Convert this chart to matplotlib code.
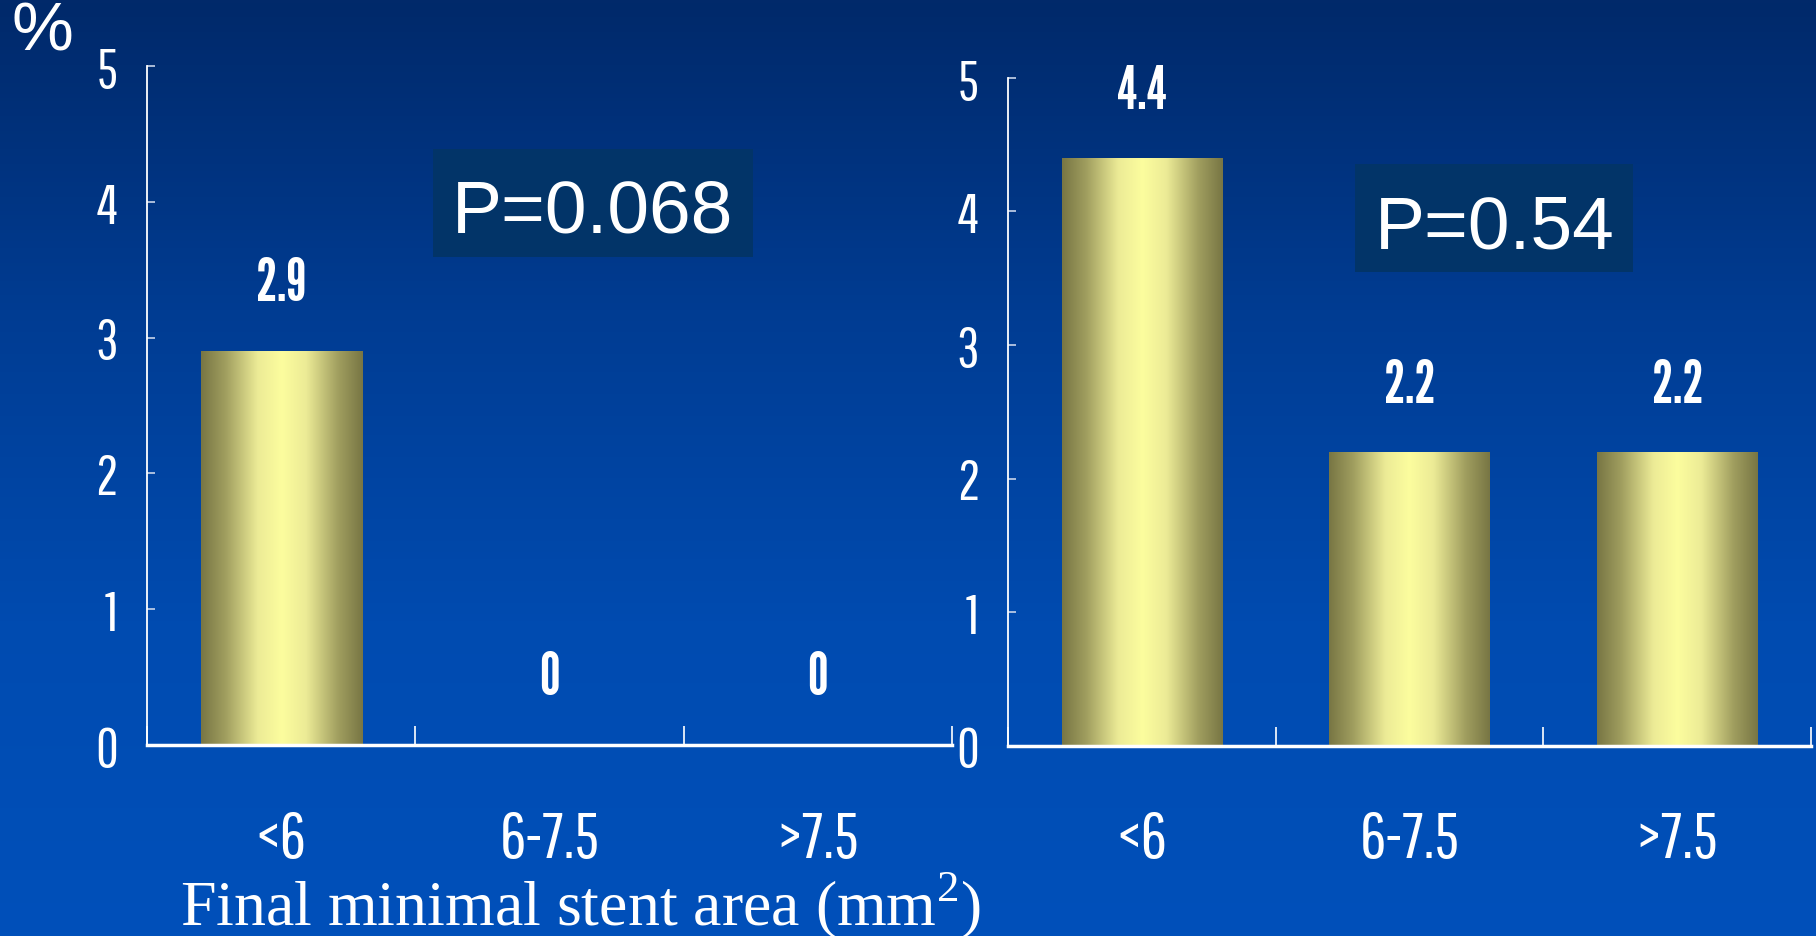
import numpy as np
import matplotlib.pyplot as plt
from matplotlib.colors import LinearSegmentedColormap
from matplotlib.patches import Rectangle

# data
categories = ['<6', '6-7.5', '>7.5']
left_values = [2.9, 0, 0]
right_values = [4.4, 2.2, 2.2]
left_p = 'P=0.068'
right_p = 'P=0.54'
y_ticks = [0, 1, 2, 3, 4, 5]
x_label = 'Final minimal stent area (mm$^{2}$)'

narrow = ['Pathway Gothic One', 'Sofia Sans Extra Condensed', 'DejaVu Sans']
narrow_bold = ['League Gothic', 'Barlow Condensed', 'DejaVu Sans']
sans = ['Liberation Sans', 'Arimo', 'DejaVu Sans']
serif = ['Liberation Serif', 'Tinos', 'DejaVu Serif']

plt.rcParams['mathtext.fontset'] = 'custom'
plt.rcParams['mathtext.rm'] = 'Liberation Serif'

fig = plt.figure(figsize=(18.16, 9.37), dpi=100)

# background gradient
bg = fig.add_axes([0, 0, 1, 1], zorder=-10)
bg_cmap = LinearSegmentedColormap.from_list('bg', ['#0050ba', '#004bb0', '#003c92', '#01296a'])
bg.imshow(np.linspace(0, 1, 256).reshape(-1, 1), cmap=bg_cmap, aspect='auto',
          extent=(0, 1, 0, 1), origin='lower')
bg.axis('off')

bar_cmap = LinearSegmentedColormap.from_list('bar', [
    (0.0, '#787644'), (0.15, '#a09e5f'), (0.35, '#eceb96'), (0.5, '#fcfd9e'),
    (0.65, '#eceb96'), (0.85, '#a09e5f'), (1.0, '#787644')])
grad = np.linspace(0, 1, 256).reshape(1, -1)


def draw_panel(rect, values, p_text, p_box, p_pos):
    ax = fig.add_axes(rect)
    ax.patch.set_alpha(0)
    x = np.arange(len(values)) + 0.5
    ax.bar(x, values, width=0.6, color='none')
    for xi, v in zip(x, values):
        if v > 0:
            ax.imshow(grad, cmap=bar_cmap, aspect='auto', extent=(xi - 0.3, xi + 0.3, 0, v), zorder=2)
        ax.text(xi, v + 0.5, f'{v:g}', ha='center', va='center', color='white',
                fontsize=42, family=narrow_bold)
    ax.set_xlim(0, len(values))
    ax.set_ylim(0, 5)
    ax.set_yticks(y_ticks)
    ax.set_yticklabels([str(t) for t in y_ticks], family=narrow, fontsize=40, color='white')
    ax.set_xticks(np.arange(len(values) + 1))
    ax.set_xticklabels([])
    ax.set_xticks(x, minor=True)
    ax.set_xticklabels(categories, minor=True, family=narrow, fontsize=47, color='white')
    ax.tick_params(axis='y', direction='in', length=6, width=1.2, color='#c8d4ea', pad=21)
    ax.tick_params(axis='x', which='major', direction='in', length=14, width=1.2, color='white')
    ax.tick_params(axis='x', which='minor', length=0, pad=46)
    for s in ['top', 'right']:
        ax.spines[s].set_visible(False)
    ax.spines['left'].set_color('white')
    ax.spines['left'].set_linewidth(1.3)
    ax.spines['bottom'].set_color('white')
    ax.spines['bottom'].set_linewidth(2.5)
    fig.patches.append(Rectangle(p_box[:2], p_box[2], p_box[3], transform=fig.transFigure,
                                 facecolor='#023468', edgecolor='none', zorder=3))
    fig.text(p_pos[0], p_pos[1], p_text, ha='center', va='baseline', color='white',
             fontsize=54, family=sans, zorder=4)
    return ax


draw_panel([0.0809, 0.2038, 0.4433, 0.7247], left_values, left_p,
           (0.2384, 0.7247, 0.1762, 0.1153), (0.3265, 0.7524))
draw_panel([0.5551, 0.2033, 0.4422, 0.7124], right_values, right_p,
           (0.7461, 0.7087, 0.1531, 0.1153), (0.8232, 0.7353))

fig.text(0.0231, 0.9648, '%', ha='center', va='center', color='white', fontsize=50, family=sans)
fig.text(0.0991, 0.0128, x_label, ha='left', va='baseline', color='white', fontsize=46, family=serif)

fig.savefig('out.png', dpi=100)
